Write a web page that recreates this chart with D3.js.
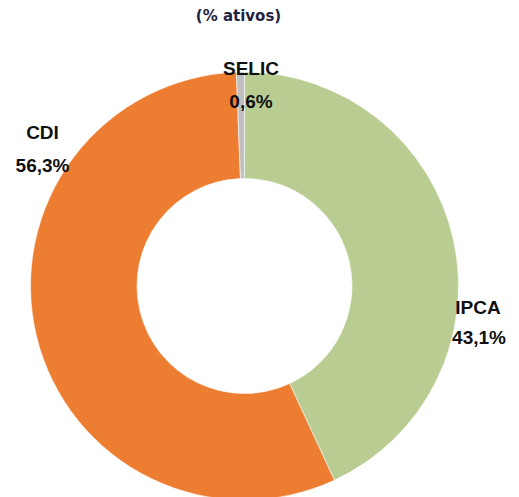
<!DOCTYPE html>
<html><head><meta charset="utf-8">
<script src="https://cdn.jsdelivr.net/npm/d3@7"></script>
<style>body{margin:0;background:#fff}svg{display:block}</style>
</head><body>
<svg id="c" width="519" height="497"></svg>
<script>
const categories = ["IPCA", "CDI", "SELIC"];
const values = [43.1, 56.3, 0.6];
const valueLabels = ["43,1%", "56,3%", "0,6%"];
const colors = ["#B9CD93", "#ED7D31", "#BFBFBF"];
const subtitle = "(% ativos)";

const svg = d3.select("#c");
const cx = 244.5, cy = 286, R = 214, r = 107.5;
const g = svg.append("g").attr("transform", `translate(${cx},${cy})`);

const data = categories.map((c, i) => ({name: c, value: values[i], label: valueLabels[i], color: colors[i]}));
const pie = d3.pie().value(d => d.value).sort(null);
const arc = d3.arc().innerRadius(r).outerRadius(R);
const arcs = pie(data);

g.selectAll("path").data(arcs).enter().append("path")
  .attr("d", arc)
  .attr("fill", d => d.data.color)
  .attr("stroke", "#fff").attr("stroke-width", 0.6);

svg.append("text").attr("x", 238.5).attr("y", 21)
  .attr("text-anchor", "middle")
  .attr("font-family", "DejaVu Sans").attr("font-weight", "bold").attr("font-size", 15)
  .attr("fill", "#1F2241").text(subtitle);

// label positions relative to the arc centroid direction
const labelArc = d3.arc().innerRadius(R + 20).outerRadius(R + 20);
const offsets = {IPCA: [0, 0], CDI: [0, 0], SELIC: [0, 0]};
const lbl = svg.append("g").attr("font-family", "Liberation Sans").attr("font-weight", "bold")
  .attr("font-size", 19).attr("fill", "#111").attr("text-anchor", "middle");
const pos = {IPCA: [478, 314], CDI: [42.5, 139], SELIC: [251, 75]};
arcs.forEach(a => {
  const p = pos[a.data.name];
  lbl.append("text").attr("x", p[0]).attr("y", p[1]).text(a.data.name);
  lbl.append("text").attr("x", p[0] + (a.data.name === "IPCA" ? 1 : 0)).attr("y", p[1] + (a.data.name === "IPCA" ? 30 : 33)).text(a.data.label);
});
</script>
</body></html>
